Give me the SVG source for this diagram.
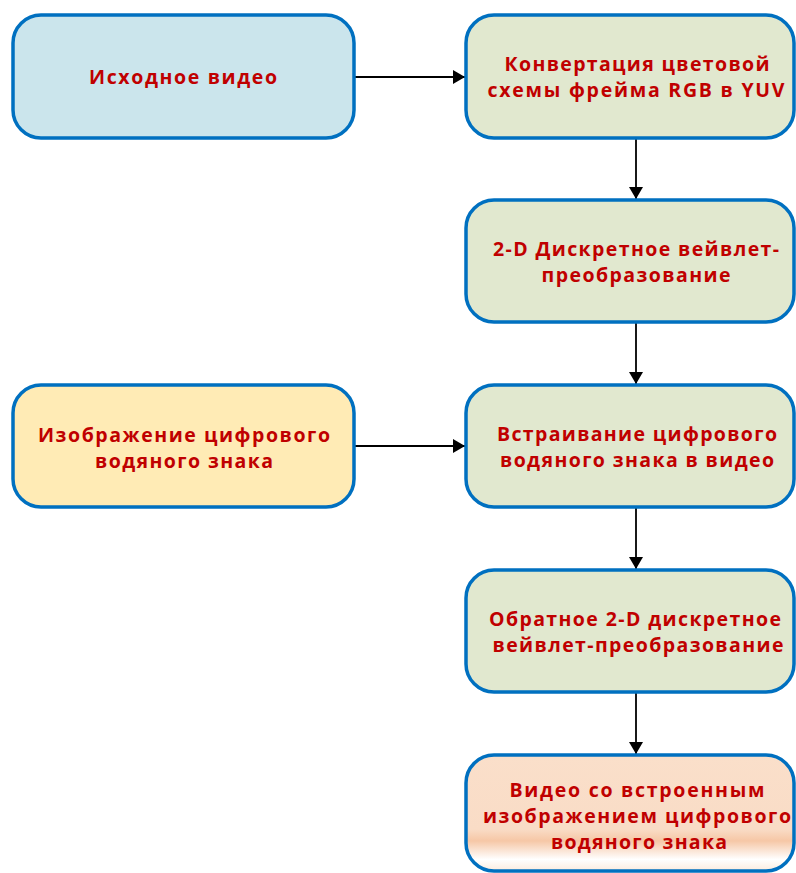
<svg xmlns="http://www.w3.org/2000/svg" width="796" height="873" viewBox="0 0 796 873">
<style>
.box{stroke:#0070C0;stroke-width:3.5}
.t{font-family:"Open Sans","Liberation Sans",sans-serif;font-weight:bold;font-size:19.5px;fill:#C00000;text-anchor:middle}
.c{stroke:#000;stroke-width:1.8;fill:none}
</style>
<defs>
<marker id="ah" markerWidth="14" markerHeight="14" refX="12" refY="7" orient="auto" markerUnits="userSpaceOnUse">
<path d="M0,0 L12,7 L0,14 Z" fill="#000"/>
</marker>
<linearGradient id="peach" x1="0" y1="0" x2="0" y2="1">
<stop offset="0" stop-color="#FADFCA"/>
<stop offset="0.64" stop-color="#F9DCC6"/>
<stop offset="0.74" stop-color="#F6C7A6"/>
<stop offset="0.9" stop-color="#FFFFFF"/>
<stop offset="1" stop-color="#FCEBDD"/>
</linearGradient>
</defs>
<g id="connectors">
<line class="c" x1="354" y1="77" x2="465" y2="77" marker-end="url(#ah)"/>
<line class="c" x1="354" y1="446" x2="465" y2="446" marker-end="url(#ah)"/>
<line class="c" x1="636" y1="138" x2="636" y2="199" marker-end="url(#ah)"/>
<line class="c" x1="636" y1="322" x2="636" y2="384" marker-end="url(#ah)"/>
<line class="c" x1="636" y1="507" x2="636" y2="569" marker-end="url(#ah)"/>
<line class="c" x1="636" y1="692" x2="636" y2="754" marker-end="url(#ah)"/>
</g>
<g id="source">
<rect class="box" x="13" y="15" width="341" height="123" rx="28" fill="#CBE5EC"/>
<text class="t" x="183" y="84" textLength="188" lengthAdjust="spacing">Исходное видео</text>
</g>
<g id="convert">
<rect class="box" x="466" y="15" width="328" height="123" rx="28" fill="#E1E8CF"/>
<text class="t" x="637" y="71" textLength="265" lengthAdjust="spacing">Конвертация цветовой</text>
<text class="t" x="636" y="97" textLength="297" lengthAdjust="spacing">схемы фрейма RGB в YUV</text>
</g>
<g id="dwt">
<rect class="box" x="466" y="200" width="328" height="122" rx="28" fill="#E1E8CF"/>
<text class="t" x="636" y="256" textLength="286" lengthAdjust="spacing">2-D Дискретное вейвлет-</text>
<text class="t" x="636" y="282" textLength="189" lengthAdjust="spacing">преобразование</text>
</g>
<g id="watermark">
<rect class="box" x="13" y="385" width="341" height="122" rx="28" fill="#FFEBB5"/>
<text class="t" x="184" y="442" textLength="292" lengthAdjust="spacing">Изображение цифрового</text>
<text class="t" x="184" y="468" textLength="178" lengthAdjust="spacing">водяного знака</text>
</g>
<g id="embed">
<rect class="box" x="466" y="385" width="328" height="122" rx="28" fill="#E1E8CF"/>
<text class="t" x="637" y="441" textLength="280" lengthAdjust="spacing">Встраивание цифрового</text>
<text class="t" x="637" y="467" textLength="274" lengthAdjust="spacing">водяного знака в видео</text>
</g>
<g id="idwt">
<rect class="box" x="466" y="570" width="328" height="122" rx="28" fill="#E1E8CF"/>
<text class="t" x="635" y="626" textLength="292" lengthAdjust="spacing">Обратное 2-D дискретное</text>
<text class="t" x="638" y="652" textLength="291" lengthAdjust="spacing">вейвлет-преобразование</text>
</g>
<g id="result">
<rect class="box" x="466" y="755" width="328" height="116" rx="28" fill="url(#peach)"/>
<text class="t" x="637" y="797" textLength="255" lengthAdjust="spacing">Видео со встроенным</text>
<text class="t" x="637" y="823" textLength="308" lengthAdjust="spacing">изображением цифрового</text>
<text class="t" x="639" y="849" textLength="176" lengthAdjust="spacing">водяного знака</text>
</g>
</svg>
